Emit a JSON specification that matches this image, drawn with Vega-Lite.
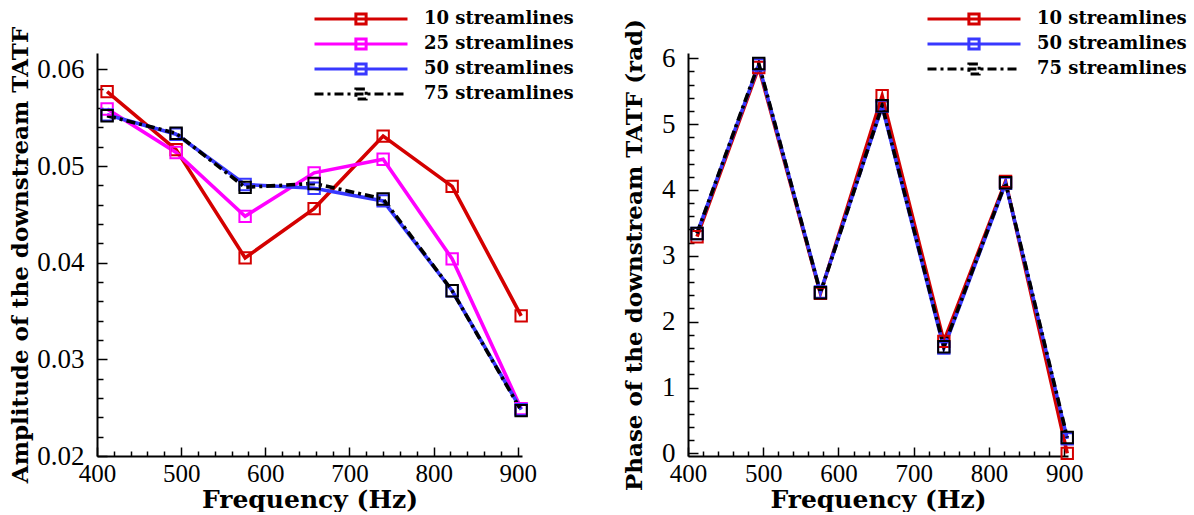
{
  "$schema": "https://vega.github.io/schema/vega-lite/v6.json",
  "background": "white",
  "padding": {"left": 9, "top": 9, "right": 5, "bottom": 0},
  "datasets": {
    "amp": [
      {"f": 412, "s": "10 streamlines", "v": 0.0577},
      {"f": 494, "s": "10 streamlines", "v": 0.0517},
      {"f": 576, "s": "10 streamlines", "v": 0.0405},
      {"f": 658, "s": "10 streamlines", "v": 0.0456},
      {"f": 740, "s": "10 streamlines", "v": 0.0531},
      {"f": 822, "s": "10 streamlines", "v": 0.0479},
      {"f": 904, "s": "10 streamlines", "v": 0.0345},
      {"f": 412, "s": "25 streamlines", "v": 0.0559},
      {"f": 494, "s": "25 streamlines", "v": 0.0514},
      {"f": 576, "s": "25 streamlines", "v": 0.0448},
      {"f": 658, "s": "25 streamlines", "v": 0.0493},
      {"f": 740, "s": "25 streamlines", "v": 0.0507},
      {"f": 822, "s": "25 streamlines", "v": 0.0404},
      {"f": 904, "s": "25 streamlines", "v": 0.0249},
      {"f": 412, "s": "50 streamlines", "v": 0.0553},
      {"f": 494, "s": "50 streamlines", "v": 0.0533},
      {"f": 576, "s": "50 streamlines", "v": 0.0481},
      {"f": 658, "s": "50 streamlines", "v": 0.0477},
      {"f": 740, "s": "50 streamlines", "v": 0.0464},
      {"f": 822, "s": "50 streamlines", "v": 0.0371},
      {"f": 904, "s": "50 streamlines", "v": 0.0248},
      {"f": 412, "s": "75 streamlines", "v": 0.0552},
      {"f": 494, "s": "75 streamlines", "v": 0.0534},
      {"f": 576, "s": "75 streamlines", "v": 0.0478},
      {"f": 658, "s": "75 streamlines", "v": 0.0482},
      {"f": 740, "s": "75 streamlines", "v": 0.0466},
      {"f": 822, "s": "75 streamlines", "v": 0.0371},
      {"f": 904, "s": "75 streamlines", "v": 0.0247}
    ],
    "phase": [
      {"f": 412, "s": "10 streamlines", "v": 3.29},
      {"f": 494, "s": "10 streamlines", "v": 5.86},
      {"f": 576, "s": "10 streamlines", "v": 2.43},
      {"f": 658, "s": "10 streamlines", "v": 5.43},
      {"f": 740, "s": "10 streamlines", "v": 1.70},
      {"f": 822, "s": "10 streamlines", "v": 4.13},
      {"f": 904, "s": "10 streamlines", "v": 0.0},
      {"f": 412, "s": "50 streamlines", "v": 3.34},
      {"f": 494, "s": "50 streamlines", "v": 5.90},
      {"f": 576, "s": "50 streamlines", "v": 2.45},
      {"f": 658, "s": "50 streamlines", "v": 5.27},
      {"f": 740, "s": "50 streamlines", "v": 1.60},
      {"f": 822, "s": "50 streamlines", "v": 4.10},
      {"f": 904, "s": "50 streamlines", "v": 0.22},
      {"f": 412, "s": "75 streamlines", "v": 3.34},
      {"f": 494, "s": "75 streamlines", "v": 5.92},
      {"f": 576, "s": "75 streamlines", "v": 2.44},
      {"f": 658, "s": "75 streamlines", "v": 5.28},
      {"f": 740, "s": "75 streamlines", "v": 1.62},
      {"f": 822, "s": "75 streamlines", "v": 4.11},
      {"f": 904, "s": "75 streamlines", "v": 0.24}
    ]
  },
  "config": {
    "view": {"stroke": null},
    "axis": {
      "grid": false,
      "domainColor": "black",
      "domainWidth": 2,
      "tickColor": "black",
      "tickWidth": 1.5,
      "labelFont": "Liberation Serif",
      "labelFontSize": 27,
      "labelColor": "black",
      "labelFlush": false,
      "labelOverlap": false,
      "titleFont": "DejaVu Serif",
      "titleFontWeight": "bold",
      "titleColor": "black"
    },
    "legend": {
      "labelFont": "DejaVu Serif",
      "labelFontWeight": "bold",
      "labelFontSize": 18,
      "labelColor": "black"
    }
  },
  "spacing": 49,
  "hconcat": [
    {
      "width": 425,
      "height": 403,
      "data": {"name": "amp"},
      "encoding": {
        "x": {"field": "f", "type": "quantitative", "scale": {"domain": [400, 905], "nice": false, "zero": false}},
        "y": {"field": "v", "type": "quantitative", "scale": {"domain": [0.02, 0.0617], "nice": false, "zero": false}},
        "color": {
          "field": "s", "type": "nominal",
          "scale": {
            "domain": ["10 streamlines", "25 streamlines", "50 streamlines", "75 streamlines"],
            "range": ["#d40000", "#ff00ff", "#3838ff", "#000000"]
          },
          "legend": {
            "title": null, "orient": "none", "legendX": 216, "legendY": -44,
            "symbolType": "M-1,0H1M-0.11,-0.11H0.11V0.11H-0.11Z",
            "symbolSize": 8649, "symbolStrokeWidth": 3, "clipHeight": 20, "rowPadding": 5, "labelOffset": 15,
            "encode": {"symbols": {"update": {"strokeDash": {"signal": "datum.value == '75 streamlines' ? [9,4,3,4] : [1,0]"}}}}
          }
        }
      },
      "layer": [
        {
          "transform": [{"filter": "datum.s != '75 streamlines'"}],
          "mark": {"type": "line", "strokeWidth": 3.6},
          "encoding": {
            "x": {
              "field": "f", "type": "quantitative",
              "axis": {
                "orient": "bottom", "ticks": false,
                "title": "Frequency (Hz)", "titleFontSize": 25, "titlePadding": 1,
                "values": [400, 500, 600, 700, 800, 900], "labelFontSize": 25, "labelPadding": 5
              }
            },
            "y": {
              "field": "v", "type": "quantitative",
              "axis": {
                "orient": "left", "ticks": false,
                "title": "Amplitude of the downstream TATF", "titleFontSize": 23, "titlePadding": 4,
                "values": [0.02, 0.03, 0.04, 0.05, 0.06], "format": ".2f", "labelPadding": 13
              }
            }
          }
        },
        {
          "transform": [{"filter": "datum.s == '75 streamlines'"}],
          "mark": {"type": "line", "strokeWidth": 3.6, "strokeDash": [9, 4, 3, 4]},
          "encoding": {
            "x": {
              "field": "f", "type": "quantitative",
              "axis": {
                "orient": "bottom", "title": null, "labels": false, "domain": false,
                "values": [400, 500, 600, 700, 800, 900], "tickSize": 9, "offset": -9
              }
            },
            "y": {
              "field": "v", "type": "quantitative",
              "axis": {
                "orient": "left", "title": null, "labels": false, "domain": false,
                "values": [0.02, 0.03, 0.04, 0.05, 0.06], "tickSize": 10, "offset": -10
              }
            }
          }
        },
        {
          "mark": {"type": "point", "shape": "square", "filled": false, "size": 130, "strokeWidth": 2, "opacity": 1},
          "encoding": {
            "x": {
              "field": "f", "type": "quantitative",
              "axis": {
                "orient": "bottom", "title": null, "labels": false, "domain": false,
                "values": [420,440,460,480,520,540,560,580,620,640,660,680,720,740,760,780,820,840,860,880],
                "tickSize": 5, "offset": -5
              }
            },
            "y": {
              "field": "v", "type": "quantitative",
              "axis": {
                "orient": "left", "title": null, "labels": false, "domain": false,
                "values": [0.022,0.024,0.026,0.028,0.032,0.034,0.036,0.038,0.042,0.044,0.046,0.048,0.052,0.054,0.056,0.058],
                "tickSize": 6, "offset": -6
              }
            }
          }
        }
      ],
      "resolve": {"axis": {"x": "independent", "y": "independent"}}
    },
    {
      "width": 380,
      "height": 403,
      "data": {"name": "phase"},
      "encoding": {
        "x": {"field": "f", "type": "quantitative", "scale": {"domain": [400, 905], "nice": false, "zero": false}},
        "y": {"field": "v", "type": "quantitative", "scale": {"domain": [-0.04, 6.08], "nice": false, "zero": false}},
        "color": {
          "field": "s", "type": "nominal",
          "scale": {
            "domain": ["10 streamlines", "50 streamlines", "75 streamlines"],
            "range": ["#d40000", "#3838ff", "#000000"]
          },
          "legend": {
            "title": null, "orient": "none", "legendX": 238, "legendY": -44,
            "symbolType": "M-1,0H1M-0.11,-0.11H0.11V0.11H-0.11Z",
            "symbolSize": 8649, "symbolStrokeWidth": 3, "clipHeight": 20, "rowPadding": 5, "labelOffset": 15,
            "encode": {"symbols": {"update": {"strokeDash": {"signal": "datum.value == '75 streamlines' ? [9,4,3,4] : [1,0]"}}}}
          }
        }
      },
      "layer": [
        {
          "transform": [{"filter": "datum.s != '75 streamlines'"}],
          "mark": {"type": "line", "strokeWidth": 3.6},
          "encoding": {
            "x": {
              "field": "f", "type": "quantitative",
              "axis": {
                "orient": "bottom", "ticks": false,
                "title": "Frequency (Hz)", "titleFontSize": 25, "titlePadding": 1,
                "values": [400, 500, 600, 700, 800, 900], "labelFontSize": 25, "labelPadding": 5
              }
            },
            "y": {
              "field": "v", "type": "quantitative",
              "axis": {
                "orient": "left", "ticks": false,
                "title": "Phase of the downstream TATF (rad)", "titleFontSize": 23, "titlePadding": 15,
                "values": [0, 1, 2, 3, 4, 5, 6], "format": "d", "labelPadding": 13
              }
            }
          }
        },
        {
          "transform": [{"filter": "datum.s == '75 streamlines'"}],
          "mark": {"type": "line", "strokeWidth": 3.6, "strokeDash": [9, 4, 3, 4]},
          "encoding": {
            "x": {
              "field": "f", "type": "quantitative",
              "axis": {
                "orient": "bottom", "title": null, "labels": false, "domain": false,
                "values": [400, 500, 600, 700, 800, 900], "tickSize": 9, "offset": -9
              }
            },
            "y": {
              "field": "v", "type": "quantitative",
              "axis": {
                "orient": "left", "title": null, "labels": false, "domain": false,
                "values": [0, 1, 2, 3, 4, 5, 6], "tickSize": 10, "offset": -10
              }
            }
          }
        },
        {
          "mark": {"type": "point", "shape": "square", "filled": false, "size": 130, "strokeWidth": 2, "opacity": 1},
          "encoding": {
            "x": {
              "field": "f", "type": "quantitative",
              "axis": {
                "orient": "bottom", "title": null, "labels": false, "domain": false,
                "values": [420,440,460,480,520,540,560,580,620,640,660,680,720,740,760,780,820,840,860,880],
                "tickSize": 5, "offset": -5
              }
            },
            "y": {
              "field": "v", "type": "quantitative",
              "axis": {
                "orient": "left", "title": null, "labels": false, "domain": false,
                "values": [0.2,0.4,0.6,0.8,1.2,1.4,1.6,1.8,2.2,2.4,2.6,2.8,3.2,3.4,3.6,3.8,4.2,4.4,4.6,4.8,5.2,5.4,5.6,5.8],
                "tickSize": 6, "offset": -6
              }
            }
          }
        }
      ],
      "resolve": {"axis": {"x": "independent", "y": "independent"}}
    }
  ],
  "resolve": {
    "scale": {"color": "independent"},
    "legend": {"color": "independent"}
  }
}
